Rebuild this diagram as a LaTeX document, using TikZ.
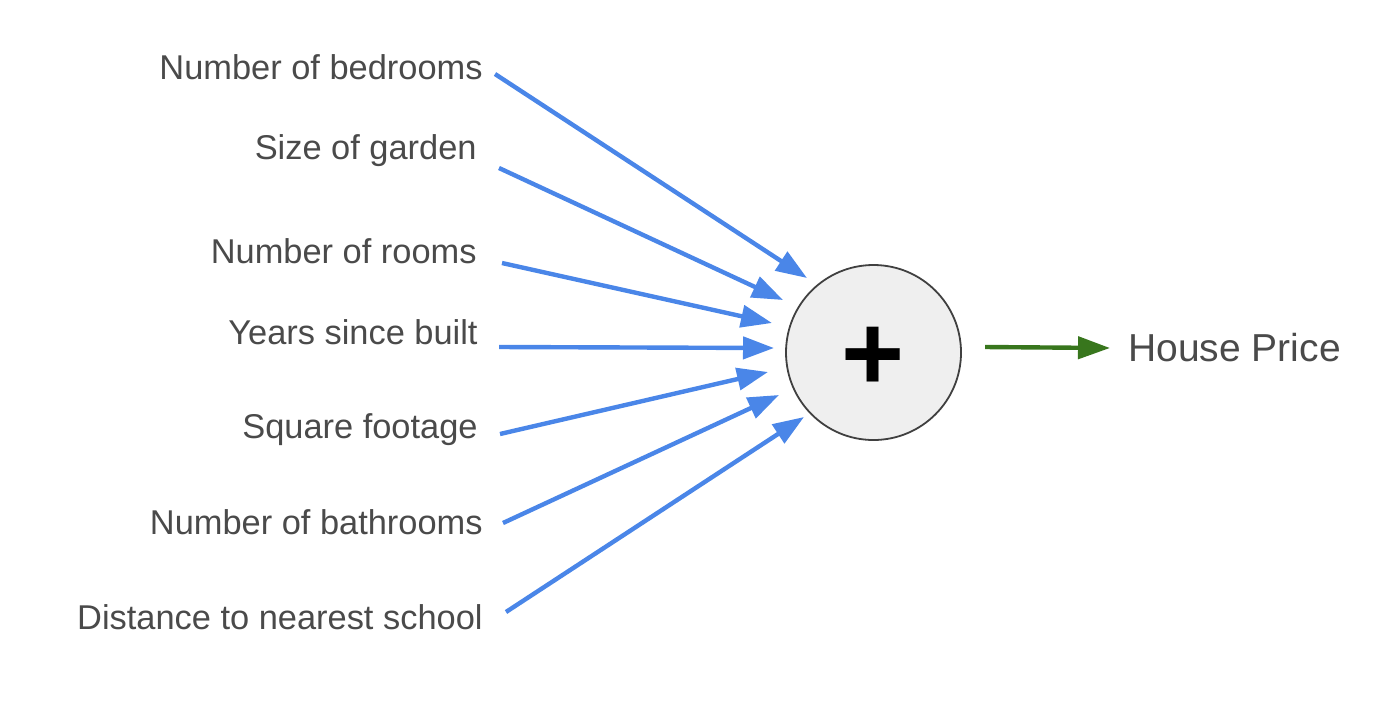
\documentclass[tikz,border=0pt]{standalone}
\usepackage{fontspec}
\setmainfont{Liberation Sans}
\usetikzlibrary{arrows.meta}
\definecolor{txtgray}{HTML}{4A4A4A}
\definecolor{inblue}{HTML}{4A86E8}
\definecolor{outgreen}{HTML}{38761D}
\definecolor{sumfill}{HTML}{EFEFEF}
\definecolor{sumline}{HTML}{404040}
\begin{document}
\begin{tikzpicture}[x=0.5pt,y=-0.5pt,
  lbl/.style={anchor=base east, inner sep=0pt, text=txtgray, font=\fontsize{17.2}{20}\selectfont},
  outlbl/.style={anchor=base west, inner sep=0pt, text=txtgray, font=\fontsize{19.5}{23}\selectfont},
  inarrow/.style={draw=inblue, line width=2.2pt, -{Triangle[length=15.5pt,width=11pt]}},
  outarrow/.style={draw=outgreen, line width=2.2pt, -{Triangle[length=16pt,width=11pt]}},
  sumnode/.style={circle, draw=sumline, fill=sumfill, line width=0.9pt, minimum size=87.5pt, inner sep=0pt}]
\useasboundingbox (0,0) rectangle (1400,713);
% labels
\node[lbl] (bed) at (483,79) {Number of bedrooms};
\node[lbl] (gar) at (477,159) {Size of garden};
\node[lbl] (roo) at (477,263) {Number of rooms};
\node[lbl] (yea) at (478,344) {Years since built};
\node[lbl] (squ) at (478,438) {Square footage};
\node[lbl] (bat) at (483,534) {Number of bathrooms};
\node[lbl] (dis) at (483,629) {Distance to nearest school};
% sum node
\node[sumnode] (sum) at (873.5,352.5) {};
\node[anchor=base, inner sep=0pt, font=\fontsize{54}{60}\selectfont\bfseries] (plus) at (873.5,390) {+};
\node[outlbl] (price) at (1128,361) {House Price};
% connector ends
\coordinate (s1) at (495,74);   \coordinate (t1) at (807,278);
\coordinate (s2) at (499,168);  \coordinate (t2) at (783,300);
\coordinate (s3) at (502,263);  \coordinate (t3) at (772,323);
\coordinate (s4) at (499,347);  \coordinate (t4) at (774,348);
\coordinate (s5) at (500,434);  \coordinate (t5) at (768,372);
\coordinate (s6) at (503,523);  \coordinate (t6) at (779,395);
\coordinate (s7) at (506,612);  \coordinate (t7) at (804,417);
\coordinate (so) at (985,347);  \coordinate (to) at (1110,348);
\draw[inarrow] (s1) -- (t1);
\draw[inarrow] (s2) -- (t2);
\draw[inarrow] (s3) -- (t3);
\draw[inarrow] (s4) -- (t4);
\draw[inarrow] (s5) -- (t5);
\draw[inarrow] (s6) -- (t6);
\draw[inarrow] (s7) -- (t7);
\draw[outarrow] (so) -- (to);
\end{tikzpicture}
\end{document}
